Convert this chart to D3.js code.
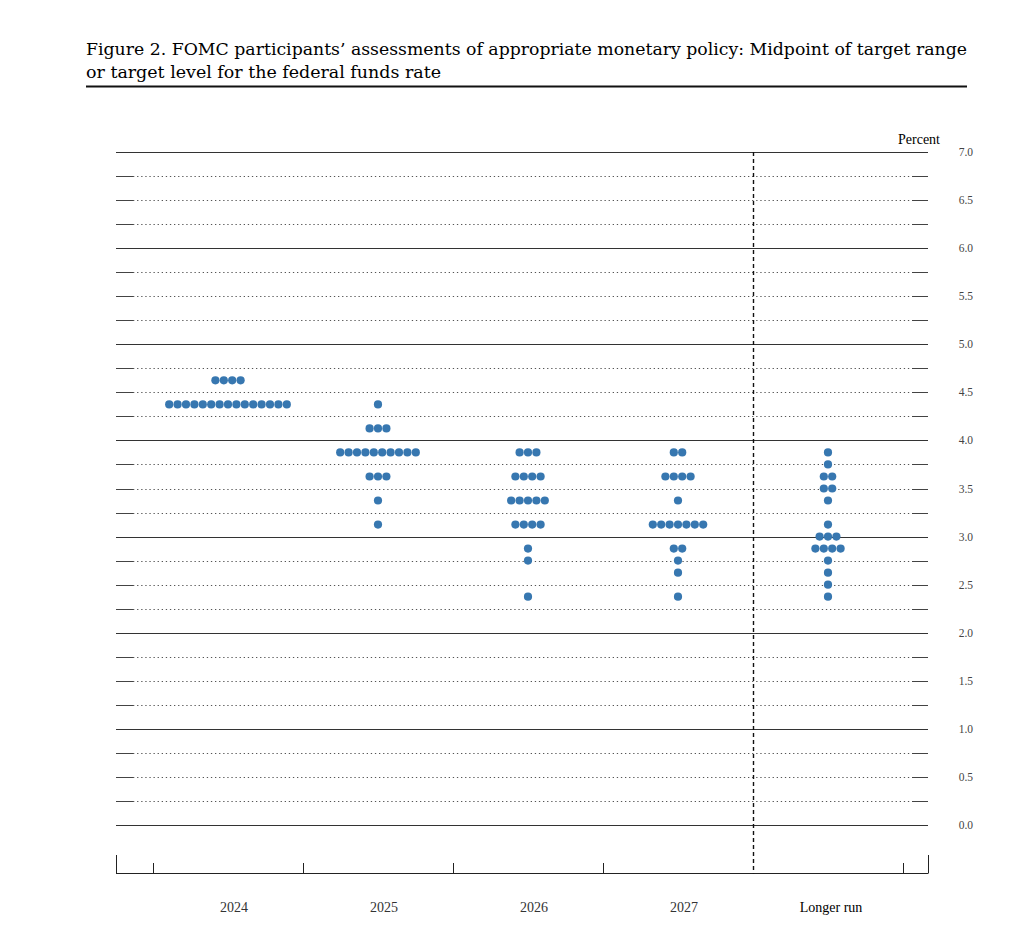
<!DOCTYPE html>
<html>
<head>
<meta charset="utf-8">
<script src="https://cdn.jsdelivr.net/npm/d3@7"></script>
<style>
body { margin: 0; background: #fff; }
text { font-family: "Liberation Serif", "Times New Roman", serif; }
</style>
</head>
<body>
<div id="chart"></div>
<script>
// categories along the bottom
var categories = ["2024", "2025", "2026", "2027", "Longer run"];

// [rate, number of participants] for each column
var dots2024 = [[4.625, 4], [4.375, 15]];
var dots2025 = [[4.375, 1], [4.125, 3], [3.875, 10], [3.625, 3], [3.375, 1], [3.125, 1]];
var dots2026 = [[3.875, 3], [3.625, 4], [3.375, 5], [3.125, 4], [2.875, 1], [2.75, 1], [2.375, 1]];
var dots2027 = [[3.875, 2], [3.625, 4], [3.375, 1], [3.125, 7], [2.875, 2], [2.75, 1], [2.625, 1], [2.375, 1]];
var dotsLonger = [[3.875, 1], [3.75, 1], [3.625, 2], [3.5, 2], [3.375, 1], [3.125, 1], [3.0, 3], [2.875, 4], [2.75, 1], [2.625, 1], [2.5, 1], [2.375, 1]];

var yTicks = [0, 0.5, 1, 1.5, 2, 2.5, 3, 3.5, 4, 4.5, 5, 5.5, 6, 6.5, 7];

var svgWidth = 1024, svgHeight = 934;

var svg = d3.select("#chart")
	.append("svg")
	.attr("width", svgWidth)
	.attr("height", svgHeight);

// title (stretched to the width of the original typeset lines)
var title = svg.append("g");
title.append("text")
	.attr("x", 86)
	.attr("y", 55)
	.attr("textLength", 881)
	.attr("lengthAdjust", "spacingAndGlyphs")
	.style("font-family", "'DejaVu Serif', serif")
	.style("font-size", "16px")
	.text("Figure 2.  FOMC participants\u2019 assessments of appropriate monetary policy:  Midpoint of target range");
title.append("text")
	.attr("x", 86)
	.attr("y", 78)
	.attr("textLength", 355)
	.attr("lengthAdjust", "spacingAndGlyphs")
	.style("font-family", "'DejaVu Serif', serif")
	.style("font-size", "16px")
	.text("or target level for the federal funds rate");
title.append("line")
	.attr("x1", 86).attr("x2", 967)
	.attr("y1", 86.5).attr("y2", 86.5)
	.attr("stroke", "#111")
	.attr("stroke-width", 2.2);

// scales
var left = 116, right = 928;
var y = d3.scaleLinear().domain([0, 7]).range([825, 152]);
var x = d3.scalePoint().domain(categories).range([228, 828]);
var step = x.step();

// gridlines every quarter point
var grid = svg.append("g");
d3.range(0, 29).forEach(function(i) {
	var v = i / 4;
	var yy = Math.round(y(v)) + 0.5;
	if (i % 4 === 0) {
		grid.append("line")
			.attr("x1", left).attr("x2", right)
			.attr("y1", yy).attr("y2", yy)
			.attr("stroke", "#333").attr("stroke-width", 1.1);
	} else {
		grid.append("line")
			.attr("x1", left + 17).attr("x2", right - 16)
			.attr("y1", yy).attr("y2", yy)
			.attr("stroke", "#555").attr("stroke-width", 1.1)
			.attr("stroke-dasharray", "1.3,2.8");
		grid.append("line")
			.attr("x1", left).attr("x2", left + 17)
			.attr("y1", yy).attr("y2", yy)
			.attr("stroke", "#444").attr("stroke-width", 1);
		grid.append("line")
			.attr("x1", right - 16).attr("x2", right)
			.attr("y1", yy).attr("y2", yy)
			.attr("stroke", "#444").attr("stroke-width", 1);
	}
});

// right-hand tick labels
svg.append("g").selectAll("text")
	.data(yTicks)
	.enter()
	.append("text")
	.attr("x", 973)
	.attr("y", d => y(d) + 4)
	.attr("text-anchor", "end")
	.attr("fill", "#444")
	.style("font-size", "11.5px")
	.text(d3.format(".1f"));

svg.append("text")
	.attr("x", 940)
	.attr("y", 144)
	.attr("text-anchor", "end")
	.style("font-size", "14px")
	.text("Percent");

// bottom axis
var axisY = 873.5;
var axis = svg.append("g");
axis.append("line")
	.attr("x1", left).attr("x2", right)
	.attr("y1", axisY).attr("y2", axisY)
	.attr("stroke", "#222");
[left, right].forEach(function(px) {
	axis.append("line")
		.attr("x1", px + 0.5).attr("x2", px + 0.5)
		.attr("y1", 855).attr("y2", axisY)
		.attr("stroke", "#222");
});
var tickXs = categories.map(c => x(c) - step / 2).concat([x(categories[categories.length - 1]) + step / 2]);
tickXs.forEach(function(px, i) {
	if (i === categories.length - 1) return; // dashed separator drawn below
	axis.append("line")
		.attr("x1", px + 0.5).attr("x2", px + 0.5)
		.attr("y1", 863).attr("y2", axisY)
		.attr("stroke", "#222");
});

// dashed divider before longer run
var sepX = x("Longer run") - step / 2 + 0.5;
svg.append("line")
	.attr("x1", sepX).attr("x2", sepX)
	.attr("y1", y(7)).attr("y2", axisY)
	.attr("stroke", "#111")
	.attr("stroke-width", 1.4)
	.attr("stroke-dasharray", "4,3");

// category labels
svg.append("g").selectAll("text")
	.data(categories)
	.enter()
	.append("text")
	.attr("x", d => x(d) + (d === "Longer run" ? 3 : 6))
	.attr("y", 912)
	.attr("text-anchor", "middle")
	.attr("fill", d => d === "Longer run" ? "#000" : "#333")
	.style("font-size", "14px")
	.text(d => d);

// dots
var columns = [dots2024, dots2025, dots2026, dots2027, dotsLonger];
var spacing = 8.4;
var points = [];
columns.forEach(function(col, ci) {
	col.forEach(function(row) {
		var n = row[1];
		for (var k = 0; k < n; k++) {
			points.push({ cat: categories[ci], rate: row[0], off: (k - (n - 1) / 2) * spacing });
		}
	});
});

svg.append("g").selectAll("circle")
	.data(points)
	.enter()
	.append("circle")
	.attr("cx", d => x(d.cat) + d.off)
	.attr("cy", d => y(d.rate))
	.attr("r", 4.1)
	.attr("fill", "#3777b0");
</script>
</body>
</html>
